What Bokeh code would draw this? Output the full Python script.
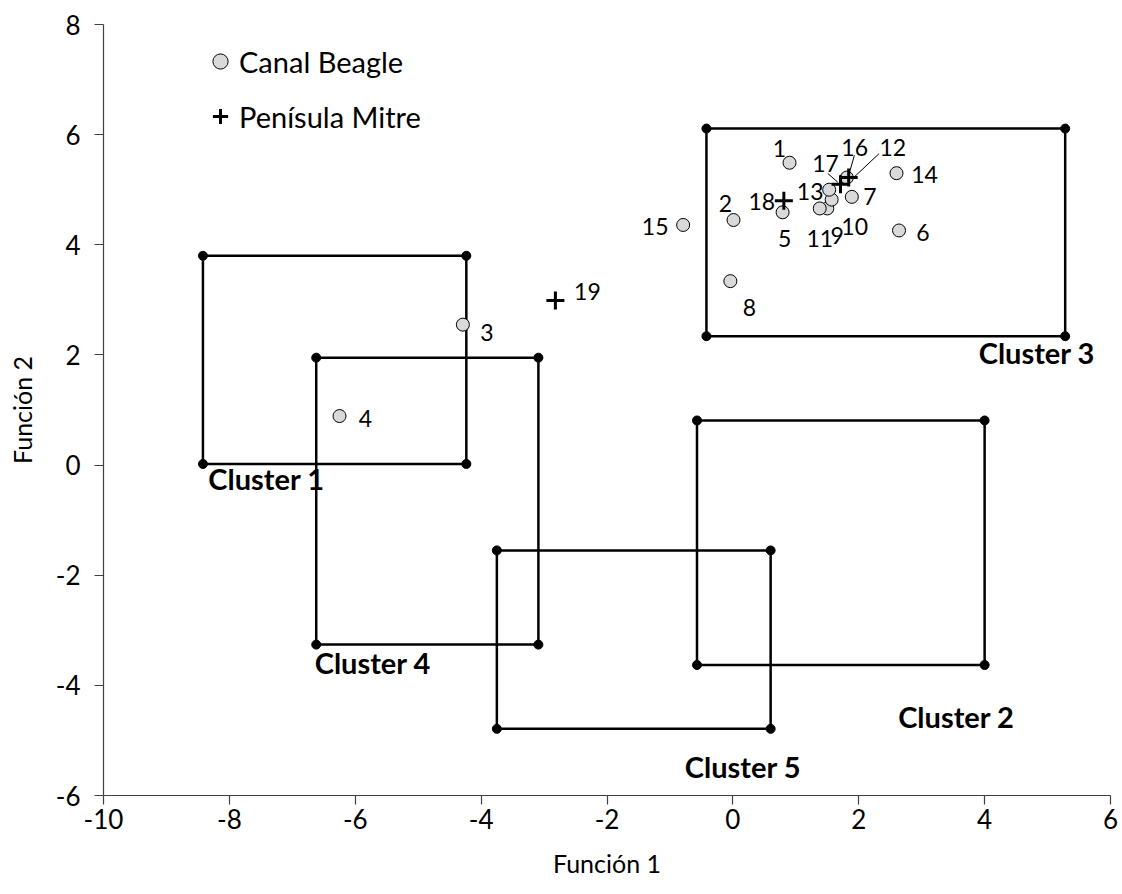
from bokeh.plotting import figure
from bokeh.models import Range1d, ColumnDataSource, Legend, LegendItem, FixedTicker
from bokeh.core.properties import value
from bokeh.embed import file_html
from bokeh.resources import INLINE

# ---------------- data ----------------
beagle_id = ["1", "2", "3", "4", "5", "6", "7", "8", "9", "10", "11", "12", "13", "14", "15"]
beagle_f1 = [0.90, 0.01, -4.29, -6.25, 0.79, 2.64, 1.89, -0.04, 1.50, 1.57, 1.38, 1.81, 1.53, 2.60, -0.79]
beagle_f2 = [5.49, 4.45, 2.55, 0.89, 4.59, 4.26, 4.87, 3.34, 4.66, 4.82, 4.66, 5.22, 5.00, 5.30, 4.36]

mitre_id = ["16", "17", "18", "19"]
mitre_f1 = [1.84, 1.71, 0.81, -2.82]
mitre_f2 = [5.22, 5.10, 4.80, 2.99]

cluster_names = ["Cluster 1", "Cluster 2", "Cluster 3", "Cluster 4", "Cluster 5"]
cluster_xmin = [-8.42, -0.57, -0.42, -6.62, -3.75]
cluster_xmax = [-4.235, 4.00, 5.28, -3.09, 0.60]
cluster_ymin = [0.02, -3.63, 2.34, -3.26, -4.79]
cluster_ymax = [3.80, 0.81, 6.11, 1.95, -1.55]
cluster_label_x = [-7.41, 3.55, 4.83, -5.72, 0.16]
cluster_label_y = [-0.24, -4.56, 2.04, -3.58, -5.47]

x_ticks = [-10, -8, -6, -4, -2, 0, 2, 4, 6]
y_ticks = [-6, -4, -2, 0, 2, 4, 6, 8]
x_tick_labels = ["-10", "-8", "-6", "-4", "-2", "0", "2", "4", "6"]
y_tick_labels = ["-6", "-4", "-2", "0", "2", "4", "6", "8"]

# label offsets in screen pixels (style; +y is downward)
beagle_dx = [-10, -8, 24, 26, 2, 24, 18, 19, 10, 23, 0, 46, -19, 28, -28]
beagle_dy = [-14, -17, 8, 2, 26, 2, 0, 26, 27, 27, 30, -30, 2, 1, 2]
mitre_dx = [6, -15, -22, 32]
mitre_dy = [-30, -21, 1, -9]

FONT = "Lato"
FW, FH = 1007, 771
XMIN, XMAX, YMIN, YMAX = -10, 6, -6, 8
SX = FW / (XMAX - XMIN)
SY = FH / (YMAX - YMIN)

p = figure(width=1122, height=894, frame_width=FW, frame_height=FH,
           x_range=Range1d(XMIN, XMAX), y_range=Range1d(YMIN, YMAX),
           output_backend="svg", toolbar_location=None,
           min_border_left=103, min_border_right=12, min_border_top=24, min_border_bottom=99)
p.outline_line_color = None
p.xgrid.visible = False
p.ygrid.visible = False
p.background_fill_color = "white"

for ax, ticks, labs in ((p.xaxis, x_ticks, x_tick_labels), (p.yaxis, y_ticks, y_tick_labels)):
    ax.ticker = FixedTicker(ticks=ticks)
    ax.major_label_overrides = {t: l for t, l in zip(ticks, labs)}
    ax.minor_tick_line_color = None
    ax.major_tick_in = 0
    ax.major_tick_out = 9
    ax.axis_line_color = "#404040"
    ax.major_tick_line_color = "#404040"
    ax.axis_line_width = 1.2
    ax.major_tick_line_width = 1.2
    ax.major_label_text_font = FONT
    ax.major_label_text_font_size = "26px"
    ax.major_label_text_color = "black"
    ax.axis_label_text_font = FONT
    ax.axis_label_text_font_size = "25px"
    ax.axis_label_text_font_style = "normal"
    ax.axis_label_text_color = "black"

p.xaxis.axis_label = "Función 1"
p.yaxis.axis_label = "Función 2"
p.xaxis.major_label_standoff = 4
p.yaxis.major_label_standoff = 14
p.xaxis.axis_label_standoff = 16
p.yaxis.axis_label_standoff = 16

# cluster rectangles
for i in range(len(cluster_names)):
    xs = [cluster_xmin[i], cluster_xmax[i], cluster_xmax[i], cluster_xmin[i], cluster_xmin[i]]
    ys = [cluster_ymax[i], cluster_ymax[i], cluster_ymin[i], cluster_ymin[i], cluster_ymax[i]]
    p.line(xs, ys, line_color="black", line_width=2.5)
    p.scatter(xs[:4], ys[:4], size=9, marker="circle", fill_color="black", line_color="black")

p.text(x=cluster_label_x, y=cluster_label_y, text=cluster_names,
       text_font=value(FONT), text_font_size="29px", text_font_style="bold",
       text_align="center", text_baseline="middle", text_color="black")

# leader lines (from label toward point), offsets in px
lead_pts = [(mitre_f1[0], mitre_f2[0], 5.7, -22.3, 0, -2.3),
            (beagle_f1[11], beagle_f2[11], 32.3, -24, 4.7, 2),
            (mitre_f1[1], mitre_f2[1], -12.7, -10.7, -2.7, -2)]
x0 = [a + dx0 / SX for a, b, dx0, dy0, dx1, dy1 in lead_pts]
y0 = [b - dy0 / SY for a, b, dx0, dy0, dx1, dy1 in lead_pts]
x1 = [a + dx1 / SX for a, b, dx0, dy0, dx1, dy1 in lead_pts]
y1 = [b - dy1 / SY for a, b, dx0, dy0, dx1, dy1 in lead_pts]
p.segment(x0, y0, x1, y1, line_color="black", line_width=1)

src_b = ColumnDataSource(dict(x=beagle_f1, y=beagle_f2, t=beagle_id, dx=beagle_dx, dy=beagle_dy))
src_m = ColumnDataSource(dict(x=mitre_f1, y=mitre_f2, t=mitre_id, dx=mitre_dx, dy=mitre_dy))

r_b = p.scatter("x", "y", source=src_b, marker="circle", size=13,
                fill_color="#d9d9d9", line_color="black", line_width=1)
r_m = p.scatter("x", "y", source=src_m, marker="cross", size=18,
                line_color="black", line_width=3)

for src in (src_b, src_m):
    p.text(x="x", y="y", text="t", x_offset="dx", y_offset="dy", source=src,
           text_font=value(FONT), text_font_size="23px", text_align="center",
           text_baseline="middle", text_color="black")

legend = Legend(items=[LegendItem(label="Canal Beagle", renderers=[r_b]),
                       LegendItem(label="Penísula Mitre", renderers=[r_m])],
                location=(98, 660))
legend.glyph_width = 38
legend.glyph_height = 38
legend.label_height = 38
legend.spacing = 17
legend.padding = 0
legend.margin = 0
legend.label_standoff = 0
legend.border_line_color = None
legend.background_fill_alpha = 0
legend.label_text_font = FONT
legend.label_text_font_size = "29px"
legend.label_text_color = "black"
p.add_layout(legend, "center")

open("out.html", "w").write(file_html(p, INLINE))
